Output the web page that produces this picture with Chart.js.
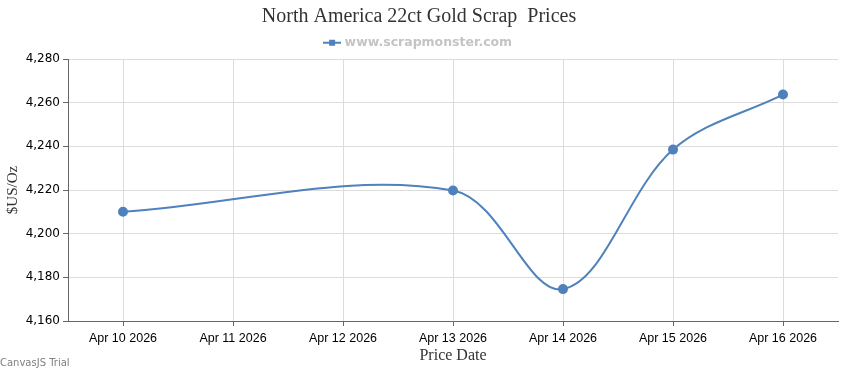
<!DOCTYPE html>
<html lang="en">
<head>
    <meta charset="UTF-8">
    <title>North America 22ct Gold Scrap Prices</title>
    <script src="https://cdn.jsdelivr.net/npm/chart.js@4.4.1/dist/chart.umd.min.js"></script>
    <style>
        body { margin: 0; background: #fff; }
        .wrap { position: relative; width: 850px; height: 370px; }
        .trial { position: absolute; left: 0; top: 357px; font: 10px "DejaVu Sans", sans-serif; color: #808080; }
    </style>
</head>
<body>
    <div class="wrap">
        <canvas id="priceChart" width="850" height="370"></canvas>
        <div class="trial">CanvasJS Trial</div>
    </div>

    <script>
        // price dates (day of April 2026) and prices in $US/Oz
        const days = [10, 13, 14, 15, 16];
        const prices = [4210, 4219.8, 4174.6, 4238.5, 4263.7];
        const tickDays = [10, 11, 12, 13, 14, 15, 16];
        const tickLabels = ['Apr 10 2026', 'Apr 11 2026', 'Apr 12 2026', 'Apr 13 2026', 'Apr 14 2026', 'Apr 15 2026', 'Apr 16 2026'];

        const blue = '#4f81bc';

        // legend marker: line with small square
        const marker = document.createElement('canvas');
        marker.width = 18; marker.height = 8;
        const mc = marker.getContext('2d');
        mc.fillStyle = blue;
        mc.fillRect(0, 3, 18, 2);
        mc.fillRect(6, 1, 6, 6);

        new Chart(document.getElementById('priceChart'), {
            type: 'line',
            data: {
                datasets: [{
                    label: 'www.scrapmonster.com',
                    data: days.map((d, i) => ({ x: d, y: prices[i] })),
                    borderColor: blue,
                    backgroundColor: blue,
                    borderWidth: 2,
                    pointRadius: 4,
                    pointHoverRadius: 4,
                    pointStyle: 'circle',
                    tension: 0.35
                }]
            },
            options: {
                responsive: false,
                animation: false,
                layout: { padding: { left: 0, right: 12, top: 0, bottom: 0 } },
                plugins: {
                    title: {
                        display: true,
                        text: 'North America 22ct Gold Scrap  Prices',
                        color: '#333',
                        font: { family: '"Liberation Serif", serif', size: 20, weight: 'normal' },
                        padding: { top: 5, bottom: 0 }
                    },
                    legend: {
                        labels: {
                            usePointStyle: true,
                            pointStyle: marker,
                            color: '#c4c4c4',
                            font: { family: '"DejaVu Sans", sans-serif', size: 12.5, weight: 'bold' },
                            padding: 7.5
                        }
                    },
                    tooltip: { enabled: false }
                },
                scales: {
                    x: {
                        type: 'linear',
                        min: 9.5,
                        max: 16.5,
                        afterBuildTicks: s => { s.ticks = tickDays.map(v => ({ value: v })); },
                        afterFit: s => { s.height = 49; },
                        ticks: {
                            color: '#000',
                            font: { family: '"Liberation Sans", sans-serif', size: 12.5 },
                            padding: 5,
                            maxRotation: 0,
                            autoSkip: false,
                            callback: v => tickLabels[tickDays.indexOf(v)]
                        },
                        grid: { color: '#dcdcdc', tickColor: '#666', tickLength: 5 },
                        border: { color: '#666' },
                        title: {
                            display: true,
                            text: 'Price Date',
                            color: '#333',
                            font: { family: '"Liberation Serif", serif', size: 16 },
                            padding: { top: 0, bottom: 5 }
                        }
                    },
                    y: {
                        min: 4160,
                        max: 4280,
                        afterFit: s => { s.width = 68; },
                        ticks: {
                            stepSize: 20,
                            color: '#000',
                            font: { family: '"DejaVu Sans", sans-serif', size: 12 },
                            padding: 3,
                            callback: v => v.toLocaleString('en-US')
                        },
                        grid: { color: '#dcdcdc', tickColor: '#666', tickLength: 5 },
                        border: { color: '#666' },
                        title: {
                            display: true,
                            text: '$US/Oz',
                            color: '#333',
                            font: { family: '"Liberation Serif", serif', size: 15 },
                            padding: 4
                        }
                    }
                }
            }
        });
    </script>
</body>
</html>
